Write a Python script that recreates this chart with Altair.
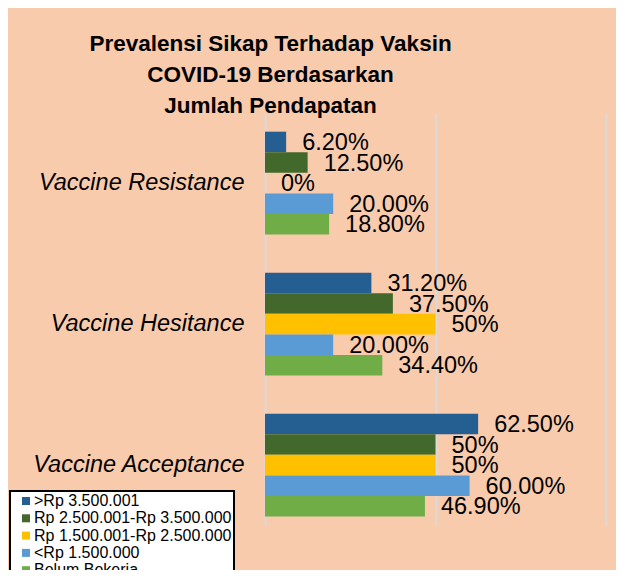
import altair as alt
import pandas as pd

categories = ["Vaccine Resistance", "Vaccine Hesitance", "Vaccine Acceptance"]
series = [">Rp 3.500.001", "Rp 2.500.001-Rp 3.500.000", "Rp 1.500.001-Rp 2.500.000",
          "<Rp 1.500.000", "Belum Bekerja"]
colors = ["#255E91", "#43682B", "#FFC000", "#5B9BD5", "#70AD47"]

values = {
    "Vaccine Resistance": [6.2, 12.5, 0, 20.0, 18.8],
    "Vaccine Hesitance": [31.2, 37.5, 50, 20.0, 34.4],
    "Vaccine Acceptance": [62.5, 50, 50, 60.0, 46.9],
}
labels = {
    "Vaccine Resistance": ["6.20%", "12.50%", "0%", "20.00%", "18.80%"],
    "Vaccine Hesitance": ["31.20%", "37.50%", "50%", "20.00%", "34.40%"],
    "Vaccine Acceptance": ["62.50%", "50%", "50%", "60.00%", "46.90%"],
}

rows = []
for c in categories:
    for i, s in enumerate(series):
        rows.append({"cat": c, "ser": s, "order": i, "val": values[c][i], "lab": labels[c][i]})
df = pd.DataFrame(rows)

FONT = "Liberation Sans"

y = alt.Y("cat:N", sort=categories, title=None,
          scale=alt.Scale(paddingInner=0.27, paddingOuter=0.096, align=0.69),
          axis=alt.Axis(ticks=False, domain=False, labelFont=FONT, labelFontSize=23.5,
                        labelFontStyle="italic", labelColor="black", labelPadding=21,
                        labelLimit=300))
x = alt.X("val:Q", title=None, scale=alt.Scale(domain=[0, 100]),
          axis=alt.Axis(values=[0, 50, 100], labels=False, ticks=False, domain=False,
                        grid=True, gridColor="#D9D9D9", gridWidth=2))
yoff = alt.YOffset("ser:N", sort=series, scale=alt.Scale(paddingInner=0, paddingOuter=0))

bars = alt.Chart(df).mark_bar().encode(
    x=x, y=y, yOffset=yoff,
    color=alt.Color("ser:N", sort=series, scale=alt.Scale(domain=series, range=colors),
                    legend=alt.Legend(title=None, orient="none", legendX=-255, legendY=378,
                                      fillColor="white", strokeColor="black", padding=2,
                                      symbolType="square", symbolSize=64, symbolOffset=6,
                                      symbolStrokeWidth=0,
                                      labelFont=FONT, labelFontSize=16, labelColor="black",
                                      labelOffset=0, labelLimit=300, rowPadding=1.3)),
)

text = alt.Chart(df).mark_text(align="left", baseline="middle", dx=16, dy=1,
                               font=FONT, fontSize=23.5, color="black").encode(
    x="val:Q", y=alt.Y("cat:N", sort=categories), yOffset=yoff, text="lab:N"
)

chart = alt.layer(bars, text).properties(
    width=341, height=412,
    autosize=alt.AutoSizeParams(type="none"),
    padding={"left": 257, "top": 105, "right": 10, "bottom": 45},
    background="#F8CBAD",
    title=alt.Title(["Prevalensi Sikap Terhadap Vaksin", "COVID-19 Berdasarkan", "Jumlah Pendapatan"],
                    font=FONT, fontSize=22.5, fontWeight="bold", color="black",
                    lineHeight=31, anchor="middle", frame="group", dx=-165, dy=4, offset=0),
).configure_view(stroke=None).configure_legend(strokeWidth=2)

chart.save("out.html", embed_options={"renderer": "svg", "actions": False})
